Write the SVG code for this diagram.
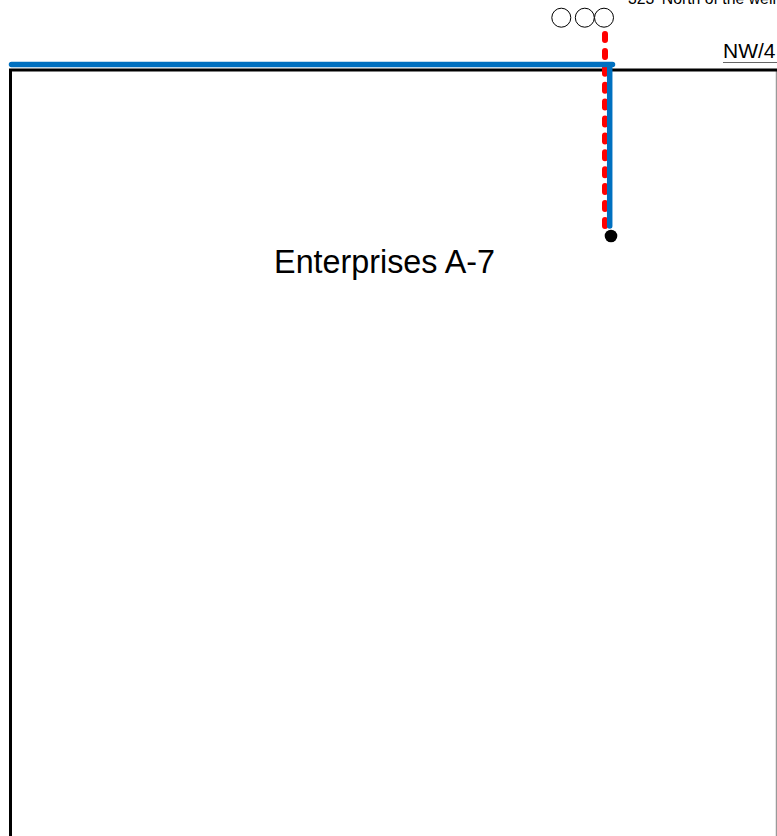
<svg xmlns="http://www.w3.org/2000/svg" width="777" height="836" viewBox="0 0 777 836">
<style>
text{font-family:"Liberation Sans",Arial,sans-serif;fill:#000}
.c{fill:#fff;stroke:#000;stroke-width:1}
</style>
<rect width="777" height="836" fill="#fff"/>
<g id="tract">
<path d="M776.500 69V836" fill="none" stroke="#9a9a9a" stroke-width="1.500"/>
<path d="M777 70H10.500V836" fill="none" stroke="#000" stroke-width="3"/>
<text x="384.500" y="273" font-size="32.300" text-anchor="middle">Enterprises A-7</text>
</g>
<g id="labels">
<text x="628" y="4" font-size="15.800">323' North of the well</text>
<text x="723" y="57.500" font-size="21">NW/4</text>
<path d="M723 62.500H777" stroke="#666" stroke-width="1"/>
</g>
<g id="circles">
<circle class="c" cx="561.300" cy="17.700" r="9.500"/>
<circle class="c" cx="584.800" cy="17.700" r="9.500"/>
<circle class="c" cx="604" cy="17.700" r="9.500"/>
</g>
<g id="connectors">
<path d="M605 34V231" fill="none" stroke="#ff0000" stroke-width="6" stroke-linecap="round" stroke-dasharray="6 10.900"/>
<path d="M11.500 64.500H612.500M609.700 64.500V226" fill="none" stroke="#0070c0" stroke-width="5.500" stroke-linecap="round" stroke-linejoin="round"/>
</g>
<g id="well"><circle cx="611" cy="236" r="6.300" fill="#000"/></g>
</svg>
